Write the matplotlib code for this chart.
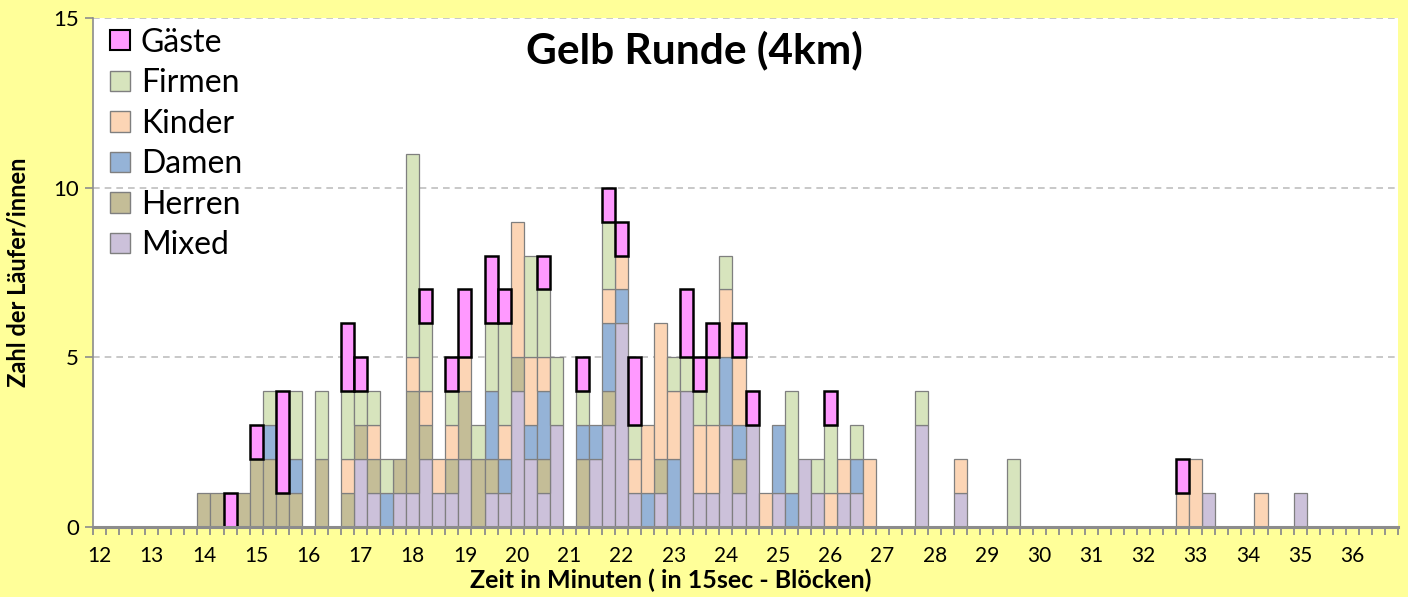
import matplotlib
matplotlib.use("Agg")
import matplotlib.pyplot as plt
from matplotlib.patches import Patch
import numpy as np

plt.rcParams['font.family'] = ['Lato', 'DejaVu Sans']

# 100 blocks of 15 s, from 12:00 to 36:45
minute_labels = [str(m) for m in range(12, 37)]

mixed = [0]*20 + \
    [2, 1, 0, 1, 1, 2, 1, 1, 2, 0, 1, 1, 4, 2, 1, 3, 0, 0, 2, 3] + \
    [6, 1, 0, 1, 0, 4, 1, 1, 3, 1, 3, 0, 1, 0, 2, 1, 0, 1, 1, 0] + \
    [0, 0, 0, 3, 0, 0, 1, 0, 0, 0, 0, 0, 0, 0, 0, 0, 0, 0, 0, 0] + \
    [0, 0, 0, 0, 0, 1, 0, 0, 0, 0, 0, 0, 1, 0, 0, 0, 0, 0, 0, 0]
herren = [0, 0, 0, 0, 0, 0, 0, 0, 1, 1, 0, 1, 2, 2, 1, 1, 0, 2, 0, 1] + \
    [1, 1, 0, 1, 3, 1, 0, 1, 2, 2, 1, 0, 1, 0, 1, 0, 0, 2, 0, 1] + \
    [0, 0, 0, 1, 0, 0, 0, 0, 0, 1, 0, 0, 0, 0, 0, 0, 0, 0, 0, 0] + \
    [0]*20 + [0]*20
damen = [0, 0, 0, 0, 0, 0, 0, 0, 0, 0, 0, 0, 0, 1, 0, 1, 0, 0, 0, 0] + \
    [0, 0, 1, 0, 0, 0, 0, 0, 0, 0, 2, 1, 0, 1, 2, 0, 0, 1, 1, 2] + \
    [1, 0, 1, 0, 2, 0, 0, 0, 2, 1, 0, 0, 2, 1, 0, 0, 0, 0, 1, 0] + \
    [0]*20 + [0]*20
kinder = [0, 0, 0, 0, 0, 0, 0, 0, 0, 0, 0, 0, 0, 0, 0, 0, 0, 0, 0, 1] + \
    [0, 1, 0, 0, 1, 1, 1, 1, 1, 0, 0, 1, 4, 2, 1, 0, 0, 0, 0, 1] + \
    [1, 1, 2, 4, 2, 0, 2, 2, 2, 2, 0, 1, 0, 0, 0, 0, 1, 1, 0, 2] + \
    [0, 0, 0, 0, 0, 0, 1, 0, 0, 0, 0, 0, 0, 0, 0, 0, 0, 0, 0, 0] + \
    [0, 0, 0, 1, 2, 0, 0, 0, 0, 1, 0, 0, 0, 0, 0, 0, 0, 0, 0, 0]
firmen = [0, 0, 0, 0, 0, 0, 0, 0, 0, 0, 0, 0, 0, 1, 0, 2, 0, 2, 0, 2] + \
    [1, 1, 1, 0, 6, 2, 0, 1, 0, 1, 2, 3, 0, 3, 2, 2, 0, 1, 0, 2] + \
    [0, 1, 0, 0, 1, 1, 1, 2, 1, 0, 0, 0, 0, 3, 0, 1, 2, 0, 1, 0] + \
    [0, 0, 0, 1, 0, 0, 0, 0, 0, 0, 2, 0, 0, 0, 0, 0, 0, 0, 0, 0] + \
    [0]*20
gaeste = [0, 0, 0, 0, 0, 0, 0, 0, 0, 0, 1, 0, 1, 0, 3, 0, 0, 0, 0, 2] + \
    [1, 0, 0, 0, 0, 1, 0, 1, 2, 0, 2, 1, 0, 0, 1, 0, 0, 1, 0, 1] + \
    [1, 2, 0, 0, 0, 2, 1, 1, 0, 1, 1, 0, 0, 0, 0, 0, 1, 0, 0, 0] + \
    [0]*20 + \
    [0, 0, 0, 1, 0, 0, 0, 0, 0, 0, 0, 0, 0, 0, 0, 0, 0, 0, 0, 0]

series_names = ['Mixed', 'Herren', 'Damen', 'Kinder', 'Firmen', 'Gäste']
series_vals = [mixed, herren, damen, kinder, firmen, gaeste]
colors = {'Mixed': '#ccc1da', 'Herren': '#c4bd97', 'Damen': '#95b3d7',
          'Kinder': '#fcd5b5', 'Firmen': '#d7e4bd', 'Gäste': '#ff99ff'}

fig = plt.figure(figsize=(14.08, 5.97), dpi=100)
fig.patch.set_facecolor('#ffff99')
ax = fig.add_axes([93/1408, 70/597, (1398-93)/1408, (527-18)/597])
ax.set_facecolor('white')

x = np.arange(len(mixed))
bottom = np.zeros(len(mixed))
for name, vals in zip(series_names, series_vals):
    v = np.array(vals, dtype=float)
    m = v > 0
    if name == 'Gäste':
        ax.bar(x[m], v[m], width=1.0, bottom=bottom[m], color=colors[name],
               edgecolor='black', linewidth=1.8, zorder=4)
    else:
        ax.bar(x[m], v[m], width=1.0, bottom=bottom[m], color=colors[name],
               edgecolor='#7f7f7f', linewidth=0.9, zorder=3)
    bottom += v

ax.set_xlim(-0.5, len(mixed) - 0.5)
ax.set_ylim(0, 15)
ax.set_yticks([0, 5, 10, 15])
ax.yaxis.grid(True, color='#bfbfbf', linestyle=(0, (4, 3)), linewidth=1.2, zorder=0)
ax.set_axisbelow(True)

ax.set_xticks(np.arange(0, len(mixed), 4))
ax.set_xticklabels(minute_labels)
ax.set_xticks(np.arange(-0.5, len(mixed), 1), minor=True)
ax.tick_params(axis='x', which='major', length=0, pad=14, labelsize=15)
ax.tick_params(axis='x', which='minor', length=6, width=1.3, color='#8c8c8c', direction='out')
ax.tick_params(axis='y', which='major', length=6, width=1.2, color='#8c8c8c',
               labelsize=16, pad=4)

for s in ['top', 'right']:
    ax.spines[s].set_visible(False)
ax.spines['left'].set_color('#8c8c8c')
ax.spines['left'].set_linewidth(1.2)
ax.spines['bottom'].set_color('#8c8c8c')
ax.spines['bottom'].set_linewidth(2.2)
ax.spines['bottom'].set_zorder(5)

handles = [Patch(facecolor=colors[n], edgecolor='black' if n == 'Gäste' else '#7f7f7f',
                 linewidth=1.5 if n == 'Gäste' else 1.0) for n in reversed(series_names)]
leg = ax.legend(handles, list(reversed(series_names)), loc='upper left',
                bbox_to_anchor=(0.006, 1.0), frameon=False, fontsize=23,
                handlelength=0.6, handleheight=0.6, handletextpad=0.35,
                labelspacing=0.33, borderaxespad=0.1, borderpad=0.2)

fig.text(694/1408, 1 - 50/597, 'Gelb Runde (4km)', ha='center', va='center',
         fontsize=30.5, fontweight='bold')
fig.text(18/1408, 1 - 272/597, 'Zahl der Läufer/innen', rotation=90, ha='center',
         va='center', fontsize=17, fontweight='bold')
fig.text(671/1408, 1 - 580/597, 'Zeit in Minuten ( in 15sec - Blöcken)', ha='center',
         va='center', fontsize=18, fontweight='bold')

fig.savefig('out.png', dpi=100, facecolor=fig.get_facecolor())
